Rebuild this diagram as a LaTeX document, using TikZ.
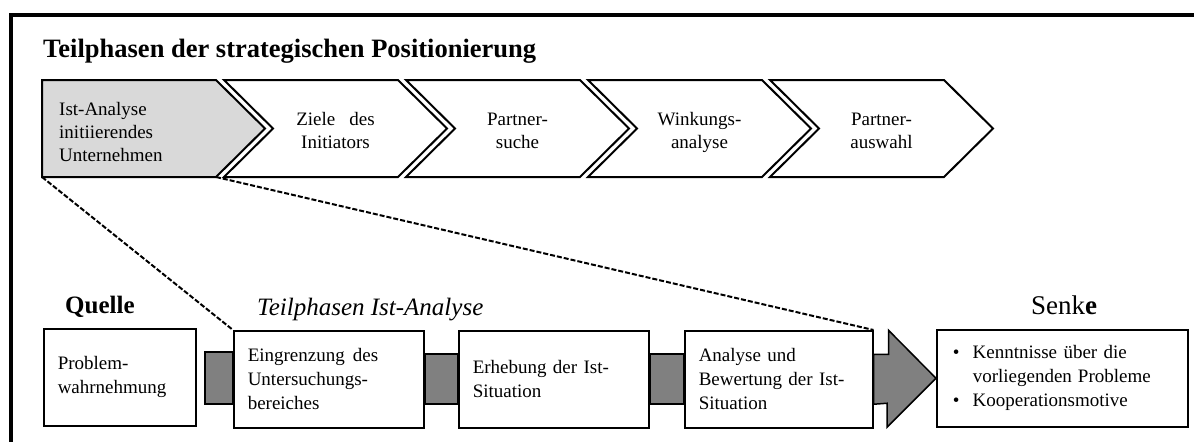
\documentclass[tikz,border=0pt]{standalone}
\usepackage{fontspec}
\setmainfont{Liberation Serif}
\usetikzlibrary{arrows.meta}

\definecolor{istgray}{HTML}{D9D9D9}
\definecolor{bargray}{HTML}{808080}
\newcommand{\itm}{\makebox[20pt][l]{\textbullet}}

\tikzset{
    phase/.style={draw=black, line width=2pt, line join=miter, fill=white},
    phasetext/.style={inner sep=0pt, align=center, font=\fontsize{19}{23}\selectfont,
        execute at begin node=\strut, execute at end node=\strut},
    stepbox/.style={draw=black, line width=1.5pt, fill=white, anchor=north west,
        minimum height=97pt, inner xsep=14pt, inner ysep=0pt, text width=#1,
        align=left, font=\fontsize{19}{24}\selectfont},
    flowbar/.style={draw=black, line width=2pt, fill=bargray},
    zoomline/.style={dash pattern=on 5pt off 2pt, line width=2pt},
}

\begin{document}
\begin{tikzpicture}[x=1pt,y=-1pt]
    \def\W{174}
    \def\T{49}
    \def\H{97}
    \useasboundingbox (0,0) rectangle (1194,442);
    \draw[line width=3.5pt] (1194,15) -- (11,15) -- (11,442);

    \node[anchor=base west, inner sep=0pt, font=\bfseries\fontsize{26.5}{30}\selectfont] (titel) at (43,57) {Teilphasen der strategischen Positionierung};

    \draw[phase, fill=istgray] (42,80) --++(\W,0) --++(\T,\H/2) --++(-\T,\H/2) coordinate (ist-se) --++(-\W,0) coordinate (ist-sw) -- cycle;
    \node[phasetext, anchor=west, align=left] (ph0) at (59,135) {Ist-Analyse\\initiierendes\\Unternehmen};
    \foreach \txt[
        count=\n,
        evaluate=\n as \xl using int(42+182*\n),
    ] in {{Ziele\hspace{14pt}des\\Initiators}, {Partner-\\suche}, {Winkungs-\\analyse}, {Partner-\\auswahl}}{
            \draw[phase] (\xl,80) --++(\W,0) --++(\T,\H/2) --++(-\T,\H/2) --++(-\W,0) --++(\T,-\H/2) -- cycle;
            \node[phasetext] (ph\n) at (\xl+111.5,134) {\txt};
        }

    \node[anchor=base west, inner sep=0pt, font=\bfseries\fontsize{25}{30}\selectfont] (quelle) at (65,313) {Quelle};
    \node[anchor=base west, inner sep=0pt, font=\itshape\fontsize{25}{30}\selectfont] (ist-titel) at (257,315) {Teilphasen Ist-Analyse};
    \node[anchor=base, inner sep=0pt, font=\fontsize{27}{30}\selectfont] (senke-titel) at (1064,314) {Senk\textbf{e}};

    \node[stepbox=124pt] (prob) at (43,328) {Problem-\\wahrnehmung};
    \node[stepbox=162pt] (eing) at (233,330) {Eingrenzung\hspace{8pt}des\\Untersuchungs-\\bereiches};
    \node[stepbox=162pt] (erh) at (458,330) {Erhebung der Ist-\\Situation};
    \node[stepbox=160pt] (anl) at (684,330) {Analyse und\\Bewertung der Ist-\\Situation};
    \node[stepbox=219pt, inner xsep=16pt] (senke) at (936,329) {\itm Kenntnisse über die\\\hspace*{20pt}vorliegenden\hspace{6pt}Probleme\\\itm Kooperationsmotive};

    \draw[flowbar] ([xshift=8pt,yshift=25pt]prob.east) rectangle ([yshift=-25pt]eing.west);
    \draw[flowbar] ([yshift=25pt]eing.east) rectangle ([yshift=-25pt]erh.west);
    \draw[flowbar] ([yshift=25pt]erh.east) rectangle ([yshift=-25pt]anl.west);
    \draw[flowbar, line width=1.5pt] ([yshift=25pt]anl.east) --++(15,0) --++(0,-24) -- (senke.west) --++(-49,49) --++(0,-24) -- ([yshift=-25pt]anl.east) -- cycle;

    \draw[zoomline] (ist-sw) -- (eing.north west);
    \draw[zoomline] (ist-se) -- (anl.north east);
\end{tikzpicture}
\end{document}
